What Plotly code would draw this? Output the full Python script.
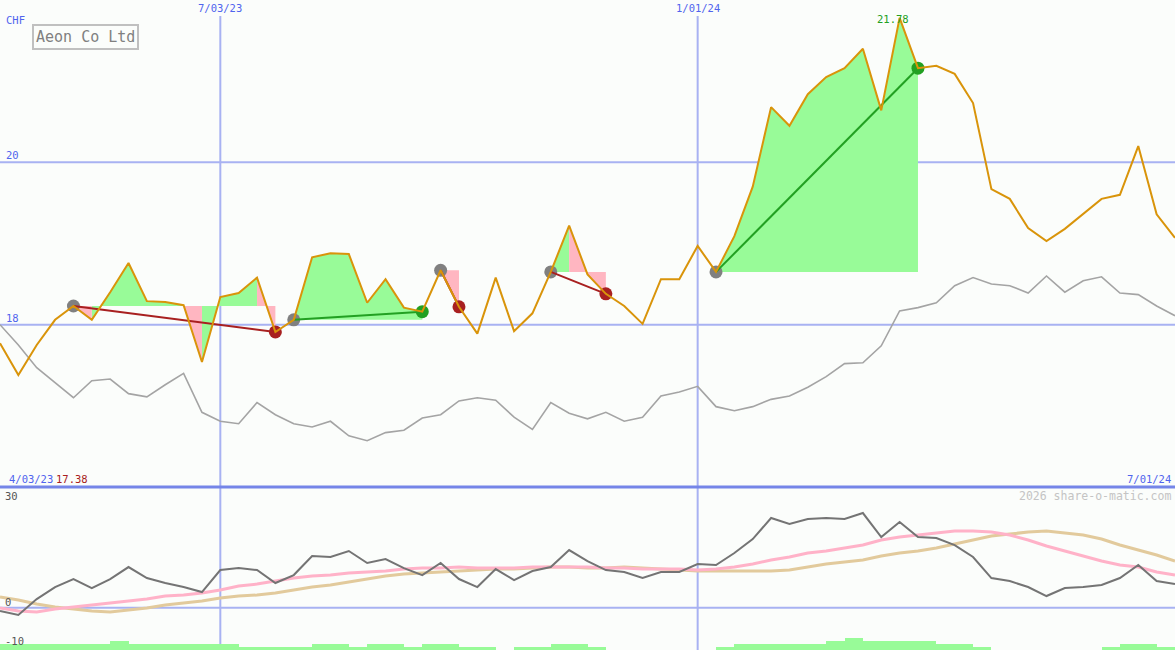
import plotly.graph_objects as go
import pandas as pd

# ---------------- data ----------------
dates = pd.date_range("2023-04-10", periods=65, freq="7D")

price = [17.77, 17.38, 17.75, 18.06, 18.23, 18.06, 18.40, 18.76, 18.29, 18.28,
         18.24, 17.54, 18.34, 18.39, 18.58, 17.91, 18.06, 18.83, 18.88, 18.87,
         18.27, 18.56, 18.21, 18.16, 18.67, 18.22, 17.89, 18.58, 17.92, 18.14,
         18.65, 19.22, 18.62, 18.38, 18.23, 18.01, 18.56, 18.56, 18.97, 18.65,
         19.09, 19.70, 20.68, 20.45, 20.84, 21.05, 21.16, 21.40, 20.64, 21.78,
         21.16, 21.19, 21.09, 20.73, 19.67, 19.55, 19.19, 19.03, 19.18, 19.36,
         19.55, 19.60, 20.20, 19.36, 19.07]

benchmark = [18.00, 17.75, 17.47, 17.28, 17.10, 17.31, 17.33, 17.15, 17.11, 17.26,
             17.40, 16.92, 16.81, 16.78, 17.04, 16.89, 16.78, 16.74, 16.81, 16.63,
             16.57, 16.67, 16.70, 16.85, 16.89, 17.06, 17.10, 17.07, 16.86, 16.71,
             17.04, 16.91, 16.84, 16.92, 16.81, 16.86, 17.12, 17.17, 17.24, 16.99,
             16.94, 16.99, 17.08, 17.12, 17.23, 17.36, 17.52, 17.53, 17.74, 18.17,
             18.21, 18.27, 18.48, 18.58, 18.50, 18.48, 18.39, 18.60, 18.40, 18.54,
             18.59, 18.39, 18.37, 18.23, 18.11]

momentum = [-0.82, -1.81, 2.16, 5.14, 7.13, 4.89, 7.13, 10.11, 7.38, 6.14,
            5.14, 3.90, 9.37, 9.86, 9.37, 6.14, 8.12, 12.84, 12.60, 14.09,
            11.11, 12.10, 9.86, 8.12, 11.11, 7.13, 5.14, 9.61, 6.88, 9.12,
            10.11, 14.34, 11.60, 9.37, 8.87, 7.38, 8.87, 8.87, 10.86, 10.61,
            13.59, 17.07, 22.29, 20.80, 22.04, 22.29, 22.04, 23.53, 17.57, 21.29,
            17.57, 17.32, 15.58, 12.60, 7.38, 6.63, 5.14, 2.91, 4.89, 5.14,
            5.64, 7.38, 10.61, 6.63, 5.89]

ma_fast = [-0.07, -0.82, -1.07, -0.32, 0.17, 0.67, 1.17, 1.66, 2.16, 2.91,
           3.16, 3.65, 4.40, 5.39, 5.89, 6.63, 7.38, 7.88, 8.12, 8.62,
           8.87, 9.12, 9.61, 9.86, 9.86, 10.11, 9.86, 9.86, 9.86, 10.11,
           10.11, 10.11, 10.11, 9.86, 9.86, 9.61, 9.61, 9.61, 9.37, 9.61,
           10.11, 10.86, 11.85, 12.60, 13.59, 14.09, 14.83, 15.58, 16.82, 17.57,
           18.06, 18.56, 19.06, 19.06, 18.81, 18.06, 16.82, 15.33, 14.09, 12.84,
           11.60, 10.61, 10.11, 8.87, 8.12]

ma_slow = [2.66, 1.91, 0.92, 0.17, -0.32, -0.82, -1.07, -0.57, -0.07, 0.67,
           1.17, 1.66, 2.41, 2.91, 3.16, 3.65, 4.40, 5.14, 5.64, 6.39,
           7.13, 7.88, 8.37, 8.62, 8.87, 9.12, 9.37, 9.61, 9.61, 9.86,
           10.11, 10.11, 9.86, 9.86, 10.11, 9.86, 9.61, 9.37, 9.12, 9.12,
           9.12, 9.12, 9.12, 9.37, 10.11, 10.86, 11.35, 11.85, 12.84, 13.59,
           14.09, 14.83, 15.83, 16.82, 17.81, 18.31, 18.81, 19.06, 18.56, 18.06,
           17.07, 15.58, 14.34, 13.09, 11.60]

volume = [2, 2, 2, 2, 2, 2, 3, 2, 2, 2,
          2, 2, 2, 1, 1, 1, 1, 2, 2, 1,
          2, 2, 1, 2, 2, 1, 1, 0, 1, 1,
          2, 2, 1, 0, 0, 0, 0, 0, 0, 1,
          2, 2, 2, 2, 2, 3, 4, 3, 3, 3,
          3, 2, 2, 1, 0, 0, 0, 0, 0, 0,
          1, 2, 2, 1, 1]

trade_entry_idx = [4, 16, 24, 30, 39]
trade_exit_idx = [15, 23, 25, 33, 50]

hgrid_values = [18, 20]
hgrid_labels = ["18", "20"]
vgrid_dates = ["2023-07-03", "2024-01-01"]
vgrid_labels = ["7/03/23", "1/01/24"]
sub_tick_values = [30, 0, -10]
sub_tick_labels = ["30", "0", "-10"]

title_text = "Aeon Co Ltd"
currency = "CHF"
start_label = "4/03/23"
end_label = "7/01/24"
low_label = "17.38"
high_label = "21.78"
credit = "2026 share-o-matic.com"

# ---------------- styling ----------------
W, H = 1175, 650
SPLIT = 487  # px from top
FONT = "DejaVu Sans Mono"
BLUE = "#5064ee"
GRID = "#a8b2f2"
GREEN_FILL = "#98fb98"
PINK_FILL = "#ffb6c1"
GAIN = "#22a022"
LOSS = "#a82020"
BG = "#fbfdfb"


def pxx(x):
    return x / W


def pyy(y):
    return 1 - y / H


fig = go.Figure()

# trade fills
gx, gy, rx, ry = [], [], [], []
for e, q in zip(trade_entry_idx, trade_exit_idx):
    base = price[e]
    for i in range(e, q):
        xs = [dates[i], dates[i], dates[i + 1], dates[i + 1], dates[i], None]
        ys = [base, price[i], price[i + 1], base, base, None]
        if price[i + 1] >= base:
            gx += xs; gy += ys
        else:
            rx += xs; ry += ys

fig.add_trace(go.Scatter(x=gx, y=gy, fill="toself", fillcolor=GREEN_FILL,
                         line=dict(width=0), mode="lines", hoverinfo="skip",
                         showlegend=False))
fig.add_trace(go.Scatter(x=rx, y=ry, fill="toself", fillcolor=PINK_FILL,
                         line=dict(width=0), mode="lines", hoverinfo="skip",
                         showlegend=False))

# benchmark line
fig.add_trace(go.Scatter(x=dates, y=benchmark, mode="lines",
                         line=dict(color="#a4a4a4", width=1.6), showlegend=False))

# markers
fig.add_trace(go.Scatter(x=[dates[e] for e in trade_entry_idx],
                         y=[price[e] for e in trade_entry_idx],
                         mode="markers", marker=dict(size=13, color="#808080"),
                         showlegend=False))
exit_colors = [GAIN if price[q] >= price[e] else LOSS
               for e, q in zip(trade_entry_idx, trade_exit_idx)]
fig.add_trace(go.Scatter(x=[dates[q] for q in trade_exit_idx],
                         y=[price[q] for q in trade_exit_idx],
                         mode="markers", marker=dict(size=13, color=exit_colors),
                         showlegend=False))

# trade lines
for e, q, c in zip(trade_entry_idx, trade_exit_idx, exit_colors):
    fig.add_trace(go.Scatter(x=[dates[e], dates[q]], y=[price[e], price[q]],
                             mode="lines", line=dict(color=c, width=2),
                             showlegend=False))

# price line
fig.add_trace(go.Scatter(x=dates, y=price, mode="lines",
                         line=dict(color="#d9940a", width=2), showlegend=False))

# lower panel
fig.add_trace(go.Bar(x=dates, y=volume, yaxis="y3", marker=dict(color=GREEN_FILL, line=dict(width=0)),
                     width=7 * 86400000, offset=0, showlegend=False))
fig.add_trace(go.Scatter(x=dates, y=ma_slow, yaxis="y2", mode="lines",
                         line=dict(color="#e2ca9c", width=3), showlegend=False))
fig.add_trace(go.Scatter(x=dates, y=ma_fast, yaxis="y2", mode="lines",
                         line=dict(color="#ffb2c8", width=3), showlegend=False))
fig.add_trace(go.Scatter(x=dates, y=momentum, yaxis="y2", mode="lines",
                         line=dict(color="#747474", width=2), showlegend=False))

shapes = []
for v in hgrid_values:
    shapes.append(dict(type="line", xref="paper", x0=0, x1=1, yref="y", y0=v, y1=v,
                       line=dict(color=GRID, width=2), layer="below"))
shapes.append(dict(type="line", xref="paper", x0=0, x1=1, yref="y2", y0=0, y1=0,
                   line=dict(color=GRID, width=2), layer="below"))
for d in vgrid_dates:
    shapes.append(dict(type="line", xref="x", x0=d, x1=d, yref="paper", y0=0, y1=pyy(16),
                       line=dict(color=GRID, width=2), layer="below"))
shapes.append(dict(type="line", xref="paper", x0=0, x1=1, yref="paper",
                   y0=pyy(SPLIT), y1=pyy(SPLIT), line=dict(color="#7585e8", width=3)))

ann = []
f10 = lambda c: dict(family=FONT, size=10.5, color=c)
ann.append(dict(text=currency, x=pxx(4), y=pyy(20), xanchor="left", yanchor="middle", font=f10(BLUE)))
for v, l in zip(hgrid_values, hgrid_labels):
    ann.append(dict(text=l, x=pxx(4), xref="paper", y=v, yref="y", xanchor="left", yanchor="bottom",
                    yshift=-1, font=f10(BLUE)))
for d, l in zip(vgrid_dates, vgrid_labels):
    ann.append(dict(text=l, x=d, xref="x", y=pyy(8), xanchor="center", yanchor="middle", font=f10(BLUE)))
for v, l in zip(sub_tick_values, sub_tick_labels):
    ann.append(dict(text=l, x=pxx(3), xref="paper", y=pyy({30: 496, 0: 602, -10: 641}[v]), yref="paper",
                    xanchor="left", yanchor="middle", font=f10("#555555")))
ann.append(dict(text=start_label, x=pxx(7), y=pyy(479), xanchor="left", yanchor="middle", font=f10(BLUE)))
ann.append(dict(text=low_label, x=pxx(54), y=pyy(479), xanchor="left", yanchor="middle", font=f10(LOSS)))
ann.append(dict(text=end_label, x=pxx(1173), y=pyy(479), xanchor="right", yanchor="middle", font=f10(BLUE)))
ann.append(dict(text=credit, x=pxx(1173), y=pyy(496), xanchor="right", yanchor="middle",
                font=dict(family=FONT, size=11.5, color="#c4c4c4")))
ann.append(dict(text=high_label, x=dates[49], xref="x", y=float(high_label), yref="y",
                xanchor="center", yanchor="middle", xshift=-7, yshift=-1, font=f10(GAIN)))
ann.append(dict(text=title_text, x=pxx(32), y=pyy(23.5), xanchor="left", yanchor="top",
                font=dict(family=FONT, size=15, color="#808080"), bordercolor="#c0c0c0",
                borderwidth=2, borderpad=2, bgcolor=BG))
for a in ann:
    a.setdefault("xref", "paper")
    a.setdefault("yref", "paper")
    a["showarrow"] = False

fig.update_layout(
    width=W, height=H, margin=dict(l=0, r=0, t=0, b=0),
    paper_bgcolor=BG, plot_bgcolor=BG, showlegend=False,
    xaxis=dict(range=[dates[0], dates[-1]], visible=False, showgrid=False, zeroline=False),
    yaxis=dict(domain=[(H - SPLIT) / H, 1], range=[16, 22], visible=False, showgrid=False, zeroline=False),
    yaxis2=dict(domain=[0, (H - SPLIT) / H], range=[-10.5, 30], visible=False, showgrid=False,
                zeroline=False, anchor="x"),
    yaxis3=dict(overlaying="y2", range=[0, (H - SPLIT) / 3], visible=False, showgrid=False,
                zeroline=False, anchor="x"),
    shapes=shapes, annotations=ann, bargap=0,
)

fig.write_html("out.html", config={"displayModeBar": False},
               post_script="document.body.style.margin='0';document.body.style.overflow='hidden';")
